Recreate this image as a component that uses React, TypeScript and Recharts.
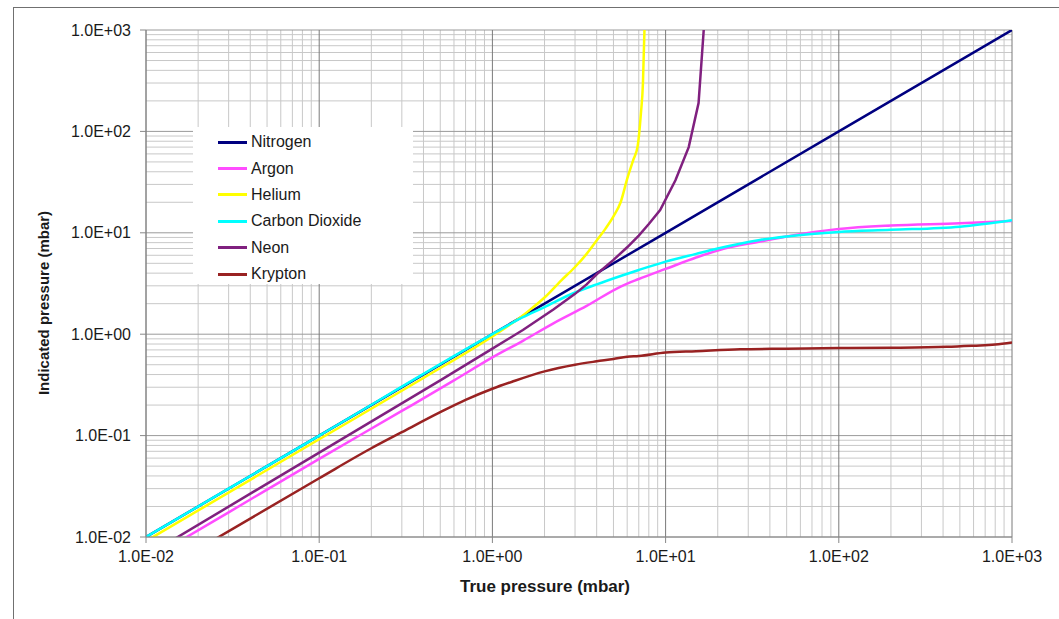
import { LineChart, Line, XAxis, YAxis, CartesianGrid, Legend } from 'recharts';

// axis ticks (log decades) and their labels
const tickValues = [0.01, 0.1, 1, 10, 100, 1000];
const tickLabels = ['1.0E-02', '1.0E-01', '1.0E+00', '1.0E+01', '1.0E+02', '1.0E+03'];
const minorSteps = [2, 3, 4, 5, 6, 7, 8, 9];

// true pressure (x) -> indicated pressure (y), mbar
const nitrogenX = [0.01, 0.1, 1, 10, 100, 1000];
const nitrogenY = [0.01, 0.1, 1, 10, 100, 1000];

const argonX = [0.01, 0.03, 0.1, 0.3, 0.6, 1, 1.5, 2.25, 3.5, 5.5, 7, 10, 15, 20, 35, 50, 100, 200, 500, 1000];
const argonY = [0.0058, 0.0175, 0.059, 0.175, 0.35, 0.59, 0.86, 1.28, 1.9, 2.95, 3.5, 4.4, 5.7, 6.7, 8.2, 9.2, 10.9, 11.8, 12.4, 13.1];

const heliumX = [0.01, 0.1, 0.4, 1, 1.3, 1.6, 2, 2.5, 3, 3.5, 4, 4.5, 5, 5.5, 6, 6.5, 6.9, 7.2, 7.4, 7.55];
const heliumY = [0.0091, 0.092, 0.37, 0.95, 1.28, 1.67, 2.3, 3.4, 4.6, 6.2, 8.4, 11, 14.5, 20, 34, 52, 72, 150, 300, 1000];

const co2X = [0.01, 0.1, 1, 1.5, 2, 2.8, 4, 5.5, 7, 10, 15, 20, 35, 50, 100, 200, 500, 1000];
const co2Y = [0.01, 0.1, 1.0, 1.47, 1.85, 2.45, 3.1, 3.75, 4.3, 5.2, 6.2, 7.0, 8.5, 9.2, 10.2, 10.7, 11.5, 13.3];

const neonX = [0.01, 0.1, 0.5, 1, 1.5, 2.25, 3, 3.5, 4, 5, 6, 7, 8, 9.3, 11.4, 13.6, 15.5, 16.6];
const neonY = [0.0065, 0.068, 0.35, 0.72, 1.1, 1.75, 2.5, 3.1, 3.9, 5.4, 7.2, 9.4, 12.2, 16.8, 33, 70, 190, 1000];

const kryptonX = [0.01, 0.1, 0.2, 0.3, 0.5, 0.7, 1, 1.3, 2, 3, 4, 5, 6, 7, 10, 15, 27, 50, 100, 200, 420, 600, 800, 1000];
const kryptonY = [0.0038, 0.038, 0.075, 0.108, 0.17, 0.225, 0.29, 0.34, 0.43, 0.5, 0.54, 0.57, 0.6, 0.61, 0.66, 0.68, 0.71, 0.72, 0.73, 0.735, 0.75, 0.77, 0.79, 0.83];

const series = [
  { name: 'Nitrogen', color: '#000080', xs: nitrogenX, ys: nitrogenY, curve: 'linear' },
  { name: 'Argon', color: '#ff4dff', xs: argonX, ys: argonY, curve: 'monotone' },
  { name: 'Helium', color: '#ffff00', xs: heliumX, ys: heliumY, curve: 'monotone' },
  { name: 'Carbon Dioxide', color: '#00ffff', xs: co2X, ys: co2Y, curve: 'monotone' },
  { name: 'Neon', color: '#80207f', xs: neonX, ys: neonY, curve: 'linear' },
  { name: 'Krypton', color: '#992222', xs: kryptonX, ys: kryptonY, curve: 'monotone' },
] as const;

const minorValues = tickValues
  .slice(0, -1)
  .flatMap((d) => minorSteps.map((m) => Number((d * m).toPrecision(3))));

const toPoints = (xs: readonly number[], ys: readonly number[]) => xs.map((x, i) => ({ x, y: ys[i] }));

const formatTick = (v: number) => tickLabels[tickValues.indexOf(v)] ?? '';

const FONT = "'Liberation Sans', Arial, sans-serif";

function LegendBox() {
  return (
    <div style={{ background: '#fff', width: 220, height: 157, paddingTop: 2, boxSizing: 'border-box' }}>
      {series.map((s) => (
        <div key={s.name} style={{ display: 'flex', alignItems: 'center', height: 26.4 }}>
          <div style={{ marginLeft: 25, width: 29, height: 3, background: s.color }} />
          <span style={{ marginLeft: 4, fontSize: 16, color: '#1a1a1a', fontFamily: FONT }}>{s.name}</span>
        </div>
      ))}
    </div>
  );
}

export default function App() {
  return (
    <div
      style={{
        position: 'absolute',
        left: 0,
        top: 0,
        width: 1059,
        height: 619,
        overflow: 'hidden',
        background: '#fff',
        fontFamily: FONT,
      }}
    >
      <div
        style={{
          position: 'absolute',
          left: 13,
          top: 7,
          width: 1200,
          height: 800,
          border: '1px solid #707070',
        }}
      />
      <div style={{ position: 'absolute', left: 0, top: 0 }}>
        <LineChart width={1059} height={619} margin={{ top: 30, right: 47, bottom: 0, left: 0 }}>
          <CartesianGrid stroke="#c8c8c8" horizontalValues={minorValues} verticalValues={minorValues} />
          <CartesianGrid stroke="#9a9a9a" vertical={false} horizontalValues={tickValues} />
          <CartesianGrid stroke="#7a7a7a" horizontal={false} verticalValues={tickValues} />
          <XAxis
            type="number"
            dataKey="x"
            scale="log"
            domain={[0.01, 1000]}
            allowDataOverflow
            ticks={tickValues}
            interval={0}
            tickFormatter={formatTick}
            height={82}
            tickSize={6}
            tickMargin={8}
            stroke="#888"
            tick={{ fill: '#1a1a1a', fontSize: 16 }}
          />
          <YAxis
            type="number"
            scale="log"
            domain={[0.01, 1000]}
            allowDataOverflow
            ticks={tickValues}
            interval={0}
            tickFormatter={formatTick}
            width={146}
            tickSize={6}
            tickMargin={9}
            stroke="#888"
            tick={{ fill: '#1a1a1a', fontSize: 16 }}
          />
          <Legend
            layout="vertical"
            align="center"
            verticalAlign="middle"
            content={() => <LegendBox />}
            wrapperStyle={{ position: 'absolute', left: 193, top: 127, width: 220, height: 157 }}
          />
          {series.map((s) => (
            <Line
              key={s.name}
              name={s.name}
              data={toPoints(s.xs, s.ys)}
              dataKey="y"
              type={s.curve}
              stroke={s.color}
              strokeWidth={2.5}
              dot={false}
              activeDot={false}
              isAnimationActive={false}
            />
          ))}
        </LineChart>
      </div>
      <div
        style={{
          position: 'absolute',
          left: 545,
          top: 587,
          transform: 'translate(-50%, -50%)',
          fontWeight: 'bold',
          fontSize: 17,
          whiteSpace: 'nowrap',
          color: '#1a1a1a',
        }}
      >
        True pressure (mbar)
      </div>
      <div
        style={{
          position: 'absolute',
          left: 43,
          top: 303,
          transform: 'translate(-50%, -50%) rotate(-90deg)',
          fontWeight: 'bold',
          fontSize: 15,
          whiteSpace: 'nowrap',
          color: '#1a1a1a',
        }}
      >
        Indicated pressure (mbar)
      </div>
    </div>
  );
}
